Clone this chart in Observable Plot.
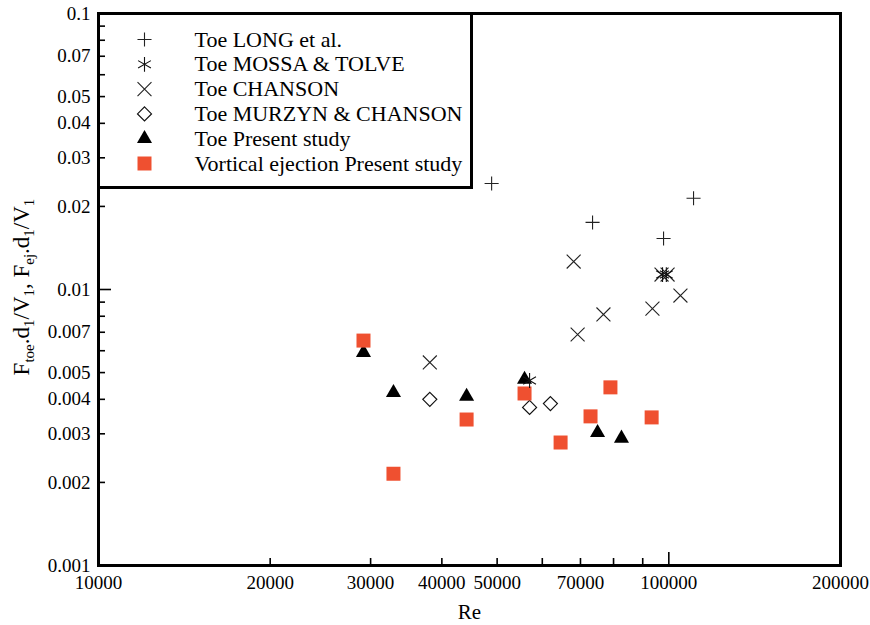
<!DOCTYPE html>
<html>
<head>
<meta charset="utf-8">
<script src="https://cdn.jsdelivr.net/npm/d3@7"></script>
<script src="https://cdn.jsdelivr.net/npm/@observablehq/plot@0.6"></script>
<style>
  html, body { margin: 0; padding: 0; background: white; }
</style>
</head>
<body>
<div id="chart"></div>
<script>
// ---- data ----
const seriesNames = ["Toe LONG et al.", "Toe MOSSA & TOLVE", "Toe CHANSON", "Toe MURZYN & CHANSON", "Toe Present study", "Vortical ejection Present study"];

const longRe = [48900, 73500, 97900, 110500];
const longF = [0.0242, 0.0175, 0.0153, 0.0214];

const mossaRe = [57000, 97500, 99000];
const mossaF = [0.00468, 0.01133, 0.01133];

const chansonRe = [38100, 68100, 69200, 76800, 93600, 97100, 99500, 104800];
const chansonF = [0.00544, 0.01263, 0.00687, 0.00812, 0.00853, 0.01133, 0.01133, 0.00951];

const murzynRe = [38100, 57000, 62000];
const murzynF = [0.00400, 0.00374, 0.00386];

const toeRe = [29150, 32900, 44200, 55850, 75000, 82600];
const toeF = [0.00591, 0.00423, 0.00410, 0.00472, 0.00303, 0.00289];

const ejRe = [29150, 32900, 44200, 55850, 64600, 72900, 79000, 93300];
const ejF = [0.00653, 0.00215, 0.00338, 0.00420, 0.00279, 0.00347, 0.00442, 0.00344];

const xLabelTicks = [10000, 20000, 30000, 40000, 50000, 70000, 100000, 200000];
const xMinorTicks = [20000, 30000, 40000, 50000, 60000, 70000, 80000, 90000];
const xMajorTicks = [100000];
const yLabelTicks = [0.001, 0.002, 0.003, 0.004, 0.005, 0.007, 0.01, 0.02, 0.03, 0.04, 0.05, 0.07, 0.1];
const yMinorTicks = [0.002, 0.003, 0.004, 0.005, 0.006, 0.007, 0.008, 0.009, 0.02, 0.03, 0.04, 0.05, 0.06, 0.07, 0.08, 0.09];
const yMajorTicks = [0.01];

// ---- styles ----
const ORANGE = "#ef5030";
const styles = [
  {symbol: "plus", r: 4.6, fill: "none", stroke: "#222", strokeWidth: 1.1},
  {symbol: "asterisk", r: 7.0, fill: "none", stroke: "#111", strokeWidth: 1.1},
  {symbol: "times", r: 6.4, fill: "none", stroke: "#222", strokeWidth: 1.1},
  {symbol: "diamond2", r: 6.3, fill: "none", stroke: "#111", strokeWidth: 1.2},
  {symbol: "triangle", r: 5.6, fill: "black", stroke: "none", strokeWidth: 0},
  {symbol: "square", r: 7.9, fill: ORANGE, stroke: "none", strokeWidth: 0}
];

const toRows = (xs, ys) => xs.map((x, i) => ({Re: x, F: ys[i]}));
const sets = [
  toRows(longRe, longF),
  toRows(mossaRe, mossaF),
  toRows(chansonRe, chansonF),
  toRows(murzynRe, murzynF),
  toRows(toeRe, toeF),
  toRows(ejRe, ejF)
];

const W = 870, H = 625, ML = 98, MR = 30, MT = 13, MB = 60;
const PW = W - ML - MR, PH = H - MT - MB;
const FONT = "'Liberation Serif', 'DejaVu Serif', serif";

const dotMark = (k) => Plot.dot(sets[k], {x: "Re", y: "F", ...styles[k]});
const drawOrder = [0, 2, 3, 4, 5, 1];

const legendMarks = [];
seriesNames.forEach((name, i) => {
  const dy = 26 + i * 24.8;
  legendMarks.push(Plot.dot([name], {frameAnchor: "top-left", dx: 46, dy, ...styles[i]}));
  legendMarks.push(Plot.text([name], {frameAnchor: "top-left", dx: 96, dy, text: d => d, textAnchor: "start", lineAnchor: "middle", fontSize: 22, fill: "black"}));
});

const chart = Plot.plot({
  width: W, height: H,
  marginLeft: ML, marginRight: MR, marginTop: MT, marginBottom: MB,
  style: {fontFamily: FONT, fontSize: "19px", background: "white", color: "black"},
  x: {type: "log", domain: [10000, 200000]},
  y: {type: "log", domain: [0.001, 0.1], axis: null},
  marks: [
    Plot.frame({fill: "white", stroke: "none"}),
    ...drawOrder.map(dotMark),
    Plot.tickX(xMinorTicks, {x: d => d, insetTop: PH - 7, stroke: "black", strokeWidth: 1.6}),
    Plot.tickX(xMajorTicks, {x: d => d, insetTop: PH - 13, stroke: "black", strokeWidth: 1.6}),
    Plot.tickY(yMinorTicks, {y: d => d, insetRight: PW - 7, stroke: "black", strokeWidth: 1.6}),
    Plot.tickY(yMajorTicks, {y: d => d, insetRight: PW - 13, stroke: "black", strokeWidth: 1.6}),
    Plot.axisX({ticks: xLabelTicks, tickSize: 0, tickPadding: 10, tickFormat: d => String(d), label: null, fontSize: 19}),
    Plot.text(yLabelTicks, {y: d => d, frameAnchor: "left", dx: -8, text: d => String(d), textAnchor: "end", lineAnchor: "middle", fontSize: 19, fill: "black"}),
    Plot.frame({stroke: "black", strokeWidth: 3, insetRight: PW - 373, insetBottom: PH - 174, fill: "white", fillOpacity: 0}),
    ...legendMarks,
    Plot.frame({stroke: "black", strokeWidth: 3}),
    Plot.text(["Re"], {frameAnchor: "bottom", dy: 47, text: d => d, fontSize: 21, lineAnchor: "middle", fill: "black"})
  ]
});

// y-axis title with subscripts
const svg = d3.select(chart);
const yTitle = svg.append("text")
  .attr("transform", `translate(29, ${MT + PH / 2 - 2}) rotate(-90)`)
  .attr("text-anchor", "middle")
  .attr("font-size", 23)
  .attr("fill", "black")
  .attr("font-family", FONT);
const parts = [["F", false], ["toe", true], [".d", false], ["1", true], ["/V", false], ["1", true], [", F", false], ["ej", true], [".d", false], ["1", true], ["/V", false], ["1", true]];
parts.forEach(([t, sub], i) => {
  const ts = yTitle.append("tspan").text(t);
  const prevSub = i > 0 && parts[i - 1][1];
  if (sub) ts.attr("font-size", 15);
  if (sub && !prevSub) ts.attr("dy", 5);
  else if (!sub && prevSub) ts.attr("dy", -5);
});

document.getElementById("chart").appendChild(chart);
</script>
</body>
</html>
